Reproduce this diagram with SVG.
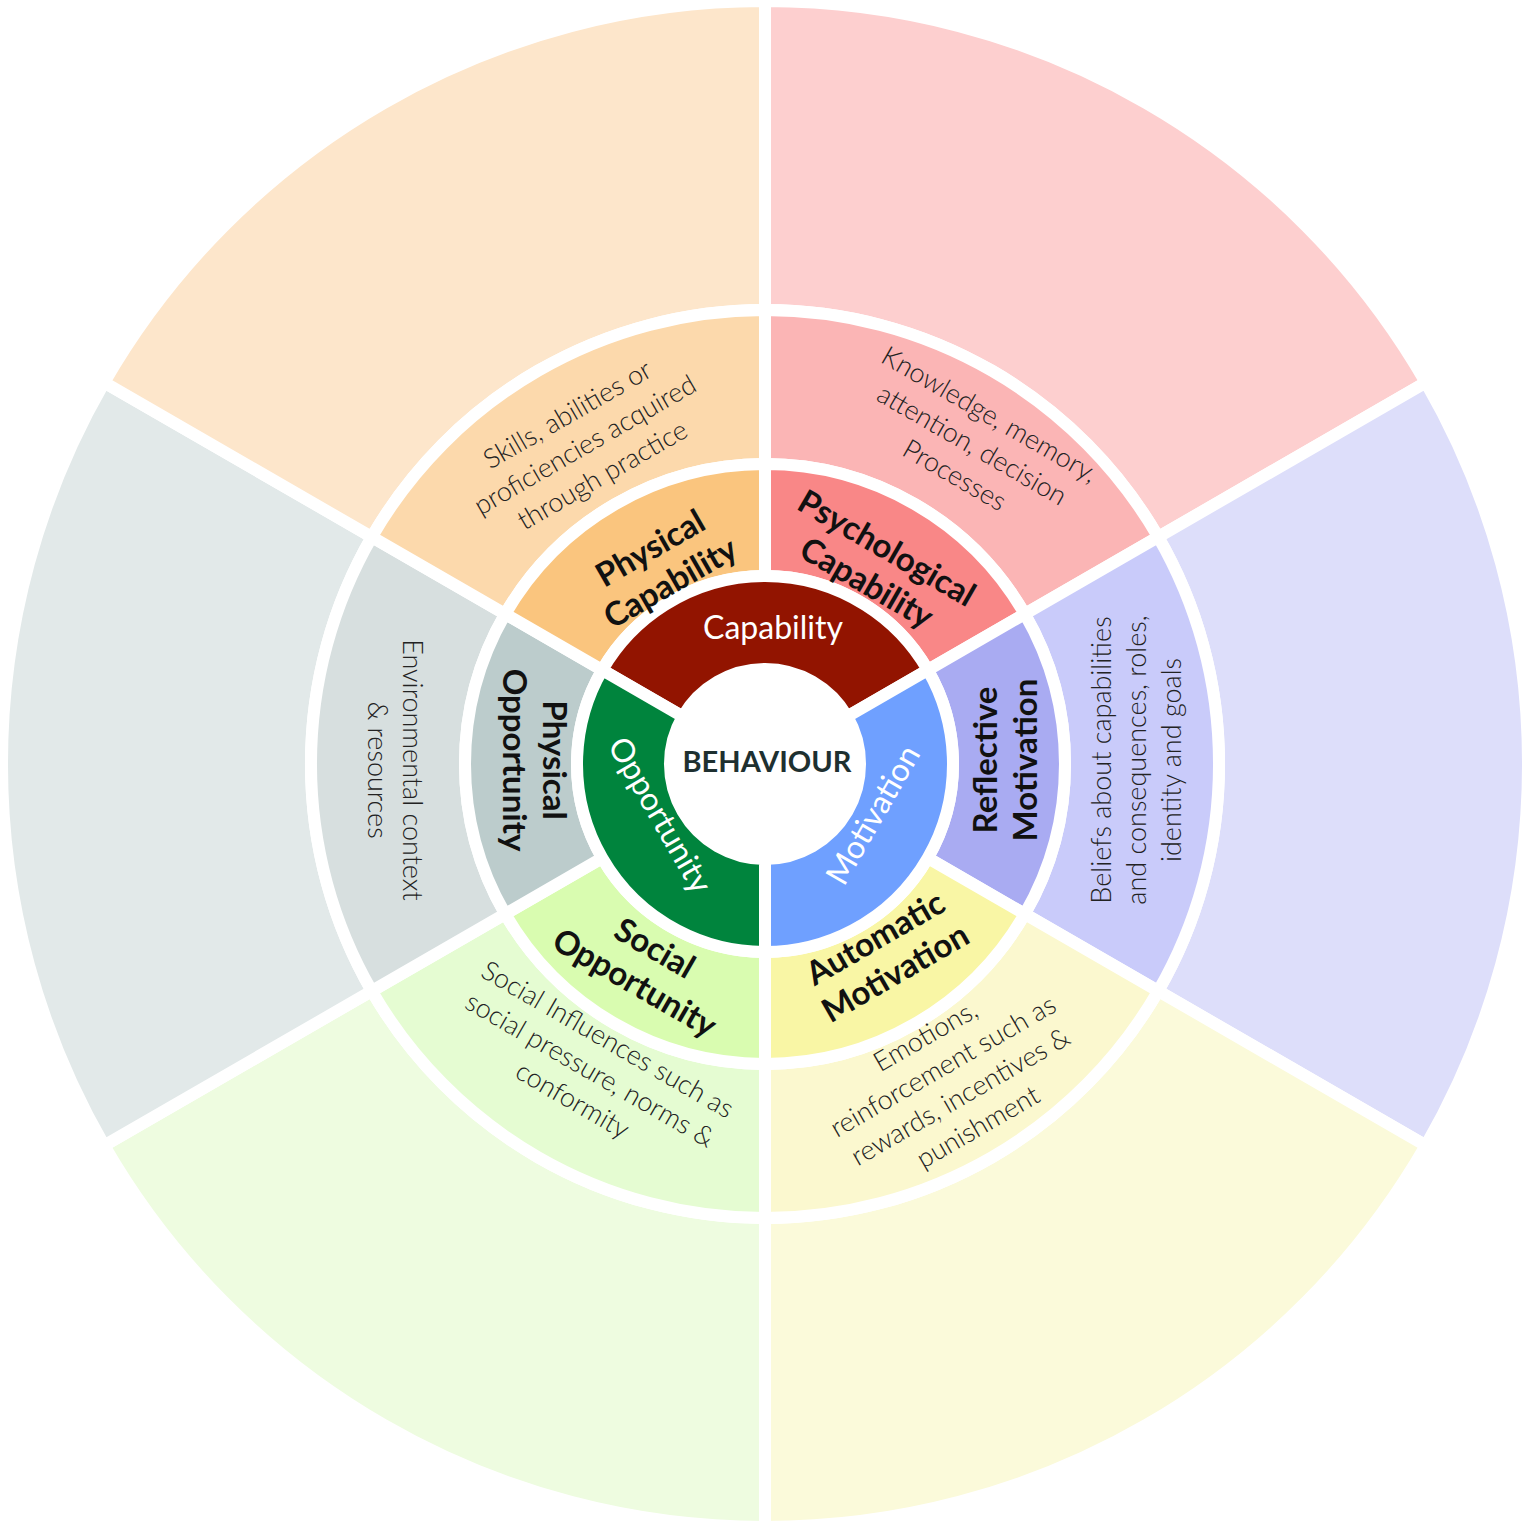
<svg xmlns="http://www.w3.org/2000/svg" width="1530" height="1528" viewBox="0 0 1530 1528">
<style>
.s{stroke:#fff;stroke-width:12;stroke-linejoin:miter}
.com{font-family:"Gill Sans","Lato","Liberation Sans",sans-serif;font-size:32px;fill:#fff;text-anchor:middle}
.sub{font-family:"Gill Sans","Lato","Liberation Sans",sans-serif;font-size:33px;font-weight:bold;fill:#111;text-anchor:middle}
.d{font-family:"Gill Sans","Lato","Liberation Sans",sans-serif;font-size:27px;font-weight:300;fill:#222;text-anchor:middle}
</style>
<rect width="1530" height="1528" fill="#fff"/>
<g id="outer">
<path class="s" fill="#FDCFCF" d="M765,1 A763,763 0 0 1 1425.8,382.5 L1158.2,537 A454,454 0 0 0 765,310 Z"/>
<path class="s" fill="#DDDEFA" d="M1425.8,382.5 A763,763 0 0 1 1425.8,1145.5 L1158.2,991 A454,454 0 0 0 1158.2,537 Z"/>
<path class="s" fill="#FBFADA" d="M1425.8,1145.5 A763,763 0 0 1 765,1527 L765,1218 A454,454 0 0 0 1158.2,991 Z"/>
<path class="s" fill="#EEFCE0" d="M765,1527 A763,763 0 0 1 104.2,1145.5 L371.8,991 A454,454 0 0 0 765,1218 Z"/>
<path class="s" fill="#E2E9E9" d="M104.2,1145.5 A763,763 0 0 1 104.2,382.5 L371.8,537 A454,454 0 0 0 371.8,991 Z"/>
<path class="s" fill="#FDE6CB" d="M104.2,382.5 A763,763 0 0 1 765,1 L765,310 A454,454 0 0 0 371.8,537 Z"/>
</g>
<g id="middle">
<path class="s" fill="#FBB5B5" d="M765,310 A454,454 0 0 1 1158.2,537 L1024.8,614 A300,300 0 0 0 765,464 Z"/>
<path class="s" fill="#C9CBFA" d="M1158.2,537 A454,454 0 0 1 1158.2,991 L1024.8,914 A300,300 0 0 0 1024.8,614 Z"/>
<path class="s" fill="#FBF8CF" d="M1158.2,991 A454,454 0 0 1 765,1218 L765,1064 A300,300 0 0 0 1024.8,914 Z"/>
<path class="s" fill="#E5FCD2" d="M765,1218 A454,454 0 0 1 371.8,991 L505.2,914 A300,300 0 0 0 765,1064 Z"/>
<path class="s" fill="#D7DFDF" d="M371.8,991 A454,454 0 0 1 371.8,537 L505.2,614 A300,300 0 0 0 505.2,914 Z"/>
<path class="s" fill="#FCD9AC" d="M371.8,537 A454,454 0 0 1 765,310 L765,464 A300,300 0 0 0 505.2,614 Z"/>
</g>
<g id="sub">
<path class="s" fill="#F98787" d="M765,464 A300,300 0 0 1 1024.8,614 L927.8,670 A188,188 0 0 0 765,576 Z"/>
<path class="s" fill="#A9ABF2" d="M1024.8,614 A300,300 0 0 1 1024.8,914 L927.8,858 A188,188 0 0 0 927.8,670 Z"/>
<path class="s" fill="#F9F6A5" d="M1024.8,914 A300,300 0 0 1 765,1064 L765,952 A188,188 0 0 0 927.8,858 Z"/>
<path class="s" fill="#D9FCB0" d="M765,1064 A300,300 0 0 1 505.2,914 L602.2,858 A188,188 0 0 0 765,952 Z"/>
<path class="s" fill="#BCCCCC" d="M505.2,914 A300,300 0 0 1 505.2,614 L602.2,670 A188,188 0 0 0 602.2,858 Z"/>
<path class="s" fill="#FAC57E" d="M505.2,614 A300,300 0 0 1 765,464 L765,576 A188,188 0 0 0 602.2,670 Z"/>
</g>
<g id="com">
<path class="s" fill="#921400" d="M602.2,670 A188,188 0 0 1 927.8,670 L847.3,716.5 A95,95 0 0 0 682.7,716.5 Z"/>
<path class="s" fill="#6FA0FF" d="M927.8,670 A188,188 0 0 1 765,952 L765,859 A95,95 0 0 0 847.3,716.5 Z"/>
<path class="s" fill="#00843D" d="M765,952 A188,188 0 0 1 602.2,670 L682.7,716.5 A95,95 0 0 0 765,859 Z"/>
</g>
<g id="center">
<text x="767" y="772" font-family="Gill Sans,Lato,Liberation Sans,sans-serif" font-size="29" font-weight="bold" fill="#1e3030" text-anchor="middle">BEHAVIOUR</text>
</g>
<g id="labels">
<text class="com" x="773" y="639">Capability</text>
<text class="com" transform="translate(660,815) rotate(60)" y="11">Opportunity</text>
<text class="com" transform="translate(873,815) rotate(-60)" y="11">Motivation</text>
<text class="sub" transform="translate(660,565) rotate(-30)"><tspan x="0" y="-8">Physical</tspan><tspan x="0" y="32">Capability</tspan></text>
<text class="sub" transform="translate(877,565) rotate(30)"><tspan x="0" y="-8">Psychological</tspan><tspan x="0" y="32">Capability</tspan></text>
<text class="sub" transform="translate(1005,760) rotate(-90)"><tspan x="0" y="-8">Reflective</tspan><tspan x="0" y="32">Motivation</tspan></text>
<text class="sub" transform="translate(885,955) rotate(-30)"><tspan x="0" y="-8">Automatic</tspan><tspan x="0" y="32">Motivation</tspan></text>
<text class="sub" transform="translate(645,965) rotate(30)"><tspan x="0" y="-8">Social</tspan><tspan x="0" y="32">Opportunity</tspan></text>
<text class="sub" transform="translate(535,760) rotate(90)"><tspan x="0" y="-8">Physical</tspan><tspan x="0" y="32">Opportunity</tspan></text>
<text class="d" transform="translate(585,445) rotate(-30)"><tspan x="0" y="-26">Skills, abilities or</tspan><tspan x="0" y="9">proficiencies acquired</tspan><tspan x="0" y="44">through practice</tspan></text>
<text class="d" transform="translate(972,445) rotate(30)"><tspan x="0" y="-26">Knowledge, memory,</tspan><tspan x="0" y="9">attention, decision</tspan><tspan x="0" y="44">Processes</tspan></text>
<text class="d" transform="translate(1137,760) rotate(-90)"><tspan x="0" y="-26">Beliefs about capabilities</tspan><tspan x="0" y="9">and consequences, roles,</tspan><tspan x="0" y="44">identity and goals</tspan></text>
<text class="d" transform="translate(952,1082) rotate(-30)"><tspan x="0" y="-44">Emotions,</tspan><tspan x="0" y="-9">reinforcement such as</tspan><tspan x="0" y="26">rewards, incentives &amp;</tspan><tspan x="0" y="61">punishment</tspan></text>
<text class="d" transform="translate(590,1070) rotate(30)"><tspan x="0" y="-26">Social Influences such as</tspan><tspan x="0" y="9">social pressure, norms &amp;</tspan><tspan x="0" y="44">conformity</tspan></text>
<text class="d" transform="translate(395,770) rotate(90)"><tspan x="0" y="-8">Environmental context</tspan><tspan x="0" y="27">&amp; resources</tspan></text>
</g>
</svg>
